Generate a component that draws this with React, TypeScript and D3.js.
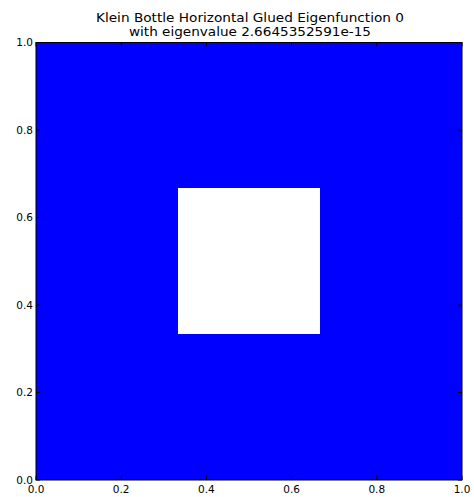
import React from "react";
import * as d3 from "d3";

const titleLines = [
  "Klein Bottle Horizontal Glued Eigenfunction 0",
  "with eigenvalue 2.6645352591e-15",
];
// 3x3 grid of eigenfunction values (row 0 = top); null = hole (no data)
const gridRows: (number | null)[][] = [
  [1, 1, 1],
  [1, null, 1],
  [1, 1, 1],
];
const xTicks = [0.0, 0.2, 0.4, 0.6, 0.8, 1.0];
const yTicks = [0.0, 0.2, 0.4, 0.6, 0.8, 1.0];

const W = 474;
const H = 497;
const M = { left: 36, right: 12, top: 42.5, bottom: 17 };

export default function App() {
  const x = d3.scaleLinear().domain([0, 1]).range([M.left, W - M.right]);
  const y = d3.scaleLinear().domain([0, 1]).range([H - M.bottom, M.top]);
  const color = d3
    .scaleLinear<string>()
    .domain([-1, 0, 1])
    .range(["#ff0000", "#ffffff", "#0000ff"]);
  const nR = gridRows.length;
  const nC = gridRows[0].length;
  const fmt = d3.format(".1f");
  const tickLen = 4;
  const font = "DejaVu Sans, sans-serif";
  const titleWidths = [308, 242];

  return (
    <svg
      width={W}
      height={H}
      style={{ position: "absolute", left: 0, top: 0, background: "#fff" }}
    >
      {gridRows.map((row, r) =>
        row.map((v, c) =>
          v === null ? null : (
            <rect
              key={`${r}-${c}`}
              x={x(c / nC)}
              y={y(1 - r / nR)}
              width={x((c + 1) / nC) - x(c / nC)}
              height={y(1 - (r + 1) / nR) - y(1 - r / nR) + 0.01}
              fill={color(v)}
              shapeRendering="crispEdges"
            />
          )
        )
      )}
      <rect
        x={x(0)}
        y={y(1)}
        width={x(1) - x(0)}
        height={y(0) - y(1)}
        fill="none"
        stroke="#000"
        strokeWidth={1}
      />
      {xTicks.map((t) => (
        <g key={`x${t}`}>
          <line x1={x(t)} x2={x(t)} y1={y(0)} y2={y(0) - tickLen} stroke="#000" />
          <line x1={x(t)} x2={x(t)} y1={y(1)} y2={y(1) + tickLen} stroke="#000" />
          <text
            x={x(t)}
            y={y(0) + 13}
            textAnchor="middle"
            fontFamily={font}
            fontSize={10.5}
            fill="#000"
          >
            {fmt(t)}
          </text>
        </g>
      ))}
      {yTicks.map((t) => (
        <g key={`y${t}`}>
          <line x1={x(0)} x2={x(0) + tickLen} y1={y(t)} y2={y(t)} stroke="#000" />
          <line x1={x(1)} x2={x(1) - tickLen} y1={y(t)} y2={y(t)} stroke="#000" />
          <text
            x={x(0) - 3}
            y={y(t)}
            dy="0.35em"
            textAnchor="end"
            fontFamily={font}
            fontSize={10.5}
            fill="#000"
          >
            {fmt(t)}
          </text>
        </g>
      ))}
      {titleLines.map((s, i) => (
        <text
          key={i}
          x={(x(0) + x(1)) / 2 + 1}
          y={21.5 + i * 14.5}
          textAnchor="middle"
          fontFamily={font}
          fontSize={13}
          textLength={titleWidths[i]}
          lengthAdjust="spacingAndGlyphs"
          fill="#000"
        >
          {s}
        </text>
      ))}
    </svg>
  );
}
